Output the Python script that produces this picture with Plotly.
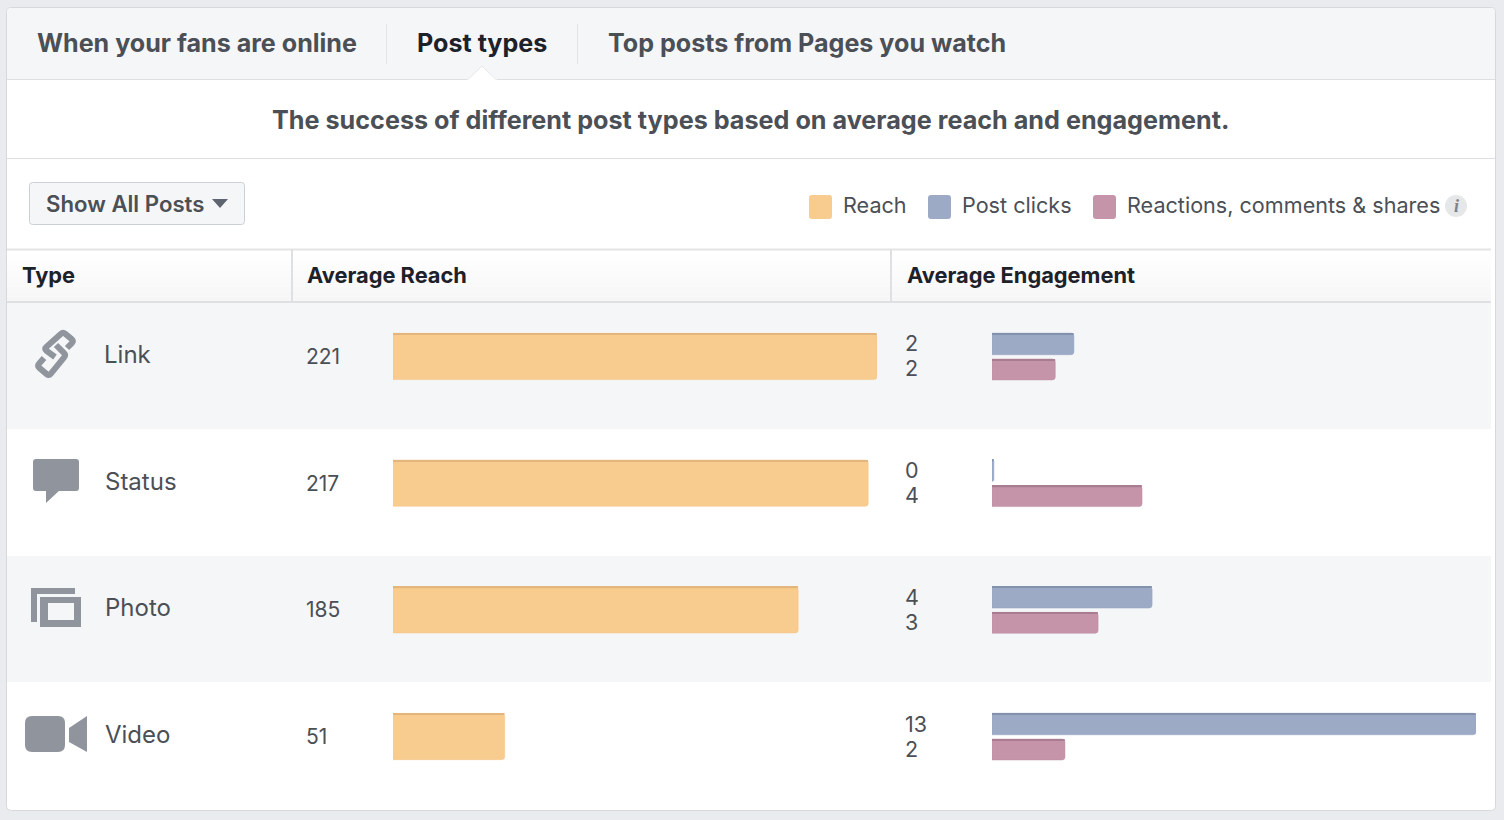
import plotly.graph_objects as go

post_types = ["Link", "Status", "Photo", "Video"]
avg_reach = [221, 217, 185, 51]
post_clicks = [2.2, 0.05, 4.3, 13]
reactions = [1.7, 4.03, 2.85, 1.96]
post_clicks_labels = ["2", "0", "4", "13"]
reactions_labels = ["2", "4", "3", "2"]
tabs = ["When your fans are online", "Post types", "Top posts from Pages you watch"]
columns = ["Type", "Average Reach", "Average Engagement"]
legend_names = ["Reach", "Post clicks", "Reactions, comments & shares"]

W = 1504
H = 820
FONT = "Inter"
DARK = "#4b4f56"
BLACK = "#1d2129"
ICON = "#90959d"
LINE = "#dddfe2"
REACH_COL = "#f8cb8f"
CLICK_COL = "#9daac5"
REACT_COL = "#c594a9"


def px(x):
    return x / W


def py(y):
    return 1 - y / H


def path(points, close=True):
    s = "M " + " L ".join(f"{px(x):.5f},{py(y):.5f}" for x, y in points)
    return s + (" Z" if close else "")


def soft_path(points, r=3):
    # open polyline with its inner corners rounded off
    s = f"M {px(points[0][0]):.5f},{py(points[0][1]):.5f}"
    for i in range(1, len(points) - 1):
        bx, by = points[i]
        for k, (ox, oy) in enumerate((points[i - 1], points[i + 1])):
            d = ((ox - bx) ** 2 + (oy - by) ** 2) ** 0.5
            cx, cy = bx + (ox - bx) * r / d, by + (oy - by) * r / d
            if k == 0:
                s += f" L {px(cx):.5f},{py(cy):.5f}"
            else:
                s += f" Q {px(bx):.5f},{py(by):.5f} {px(cx):.5f},{py(cy):.5f}"
    s += f" L {px(points[-1][0]):.5f},{py(points[-1][1]):.5f}"
    return s


def rounded(x0, y0, x1, y1, r):
    # rounded rectangle, paper coordinates
    X0, X1 = px(x0), px(x1)
    Y0, Y1 = py(y0), py(y1)
    rx, ry = r / W, r / H
    return (
        f"M {X0 + rx:.5f},{Y0:.5f} L {X1 - rx:.5f},{Y0:.5f} Q {X1:.5f},{Y0:.5f} {X1:.5f},{Y0 - ry:.5f} "
        f"L {X1:.5f},{Y1 + ry:.5f} Q {X1:.5f},{Y1:.5f} {X1 - rx:.5f},{Y1:.5f} "
        f"L {X0 + rx:.5f},{Y1:.5f} Q {X0:.5f},{Y1:.5f} {X0:.5f},{Y1 + ry:.5f} "
        f"L {X0:.5f},{Y0 - ry:.5f} Q {X0:.5f},{Y0:.5f} {X0 + rx:.5f},{Y0:.5f} Z"
    )


shapes = []


def add_path(p, fill="rgba(0,0,0,0)", line=None, width=0):
    shapes.append(dict(type="path", xref="paper", yref="paper", path=p, fillcolor=fill,
                       line=dict(color=line or "rgba(0,0,0,0)", width=width), layer="below"))


def add_rect(x0, y0, x1, y1, fill):
    shapes.append(dict(type="rect", xref="paper", yref="paper", x0=px(x0), x1=px(x1), y0=py(y0), y1=py(y1),
                       fillcolor=fill, line=dict(width=0), layer="below"))


def add_line(x0, y0, x1, y1, color, width=1):
    shapes.append(dict(type="line", xref="paper", yref="paper", x0=px(x0), x1=px(x1), y0=py(y0), y1=py(y1),
                       line=dict(color=color, width=width), layer="below"))


annotations = []


def add_text(x, y, text, size, color=DARK, weight=400, anchor="left", family=FONT, yref="paper", yshift=0):
    annotations.append(dict(
        xref="paper", yref=yref, x=px(x), y=py(y) if yref == "paper" else y, yshift=yshift,
        text=text, showarrow=False, xanchor=anchor, yanchor="middle",
        font=dict(family=family, size=size, color=color, weight=weight), borderpad=0,
    ))


# card and tab strip
add_path(rounded(6.5, 7.5, 1495.5, 810.5, 5), fill="#ffffff", line="#d6d8dc", width=1)
add_path(rounded(7, 8, 1495, 40, 4), fill="#f5f6f8")
add_rect(7, 30, 1495, 79, "#f5f6f8")
add_line(7, 79.5, 1495, 79.5, LINE)
add_line(386.5, 24, 386.5, 64, "#e3e4e7")
add_line(577.5, 24, 577.5, 64, "#e3e4e7")
add_path(path([(467, 80), (482, 66), (497, 80)]), fill="#ffffff", line=None)
add_path(path([(468, 79.5), (482, 66), (496, 79.5)], close=False), line="#e6e7ea", width=1)
add_line(7, 158.5, 1495, 158.5, LINE)

# dropdown button
add_path(rounded(29.5, 182.5, 244.5, 224.5, 3), fill="#f5f6f8", line="#ccd0d5", width=1)
add_path(path([(212, 199), (228, 199), (220, 208)]), fill="#5f6570")

# table head, faded in bands
for i in range(10):
    g = 255 - i
    add_rect(7, 250 + i * 5.2, 1491, 250 + (i + 1) * 5.2, f"rgb({g},{g},{min(g + 1, 255)})")
add_line(7, 249.5, 1491, 249.5, "#e3e4e6", 2)
add_line(7, 302, 1491, 302, "#dfe0e3", 2)
add_line(292, 249, 292, 302, "#dfe0e3", 2)
add_line(891, 249, 891, 302, "#dfe0e3", 2)

# striped rows
add_rect(7, 303, 1491, 429, "#f5f6f8")
add_rect(7, 556, 1491, 682, "#f5f6f8")

# link icon
for chain in ([(55, 357), (44, 349), (63, 332), (74, 341), (67, 348)],
              [(56, 345), (66, 355), (49, 376), (37, 366), (44, 358)]):
    add_path(soft_path(chain), line=ICON, width=6)

# status icon
add_path(rounded(33, 459, 79, 491, 3), fill=ICON)
add_path(path([(46, 490), (60, 490), (46, 503)]), fill=ICON)

# photo icon
add_path(path([(31, 588), (75, 588), (75, 594), (37, 594), (37, 622), (31, 622)]), fill=ICON)
add_rect(40, 597, 81, 603, ICON)
add_rect(40, 620, 81, 627, ICON)
add_rect(40, 603, 48, 620, ICON)
add_rect(74, 603, 81, 620, ICON)

# video icon
add_path(rounded(25, 716, 65, 752, 7), fill=ICON)
add_path(path([(69, 728), (87, 716), (87, 752), (69, 742)]), fill=ICON)

# legend
for x, col in zip([809, 928, 1093], [REACH_COL, CLICK_COL, REACT_COL]):
    add_path(rounded(x, 195, x + 23, 219, 3), fill=col)
for x, name in zip([842, 961, 1125.5], legend_names):
    add_text(x, 204.5, name, 21.6)
shapes.append(dict(type="circle", xref="paper", yref="paper", x0=px(1445), x1=px(1467), y0=py(217), y1=py(195),
                   fillcolor="#e6e7e9", line=dict(width=0), layer="below"))
add_text(1456, 206, "<i>i</i>", 18, color="#808388", anchor="center", family="Liberation Serif", weight=700)

# fixed text
for x, tab in zip([35.5, 415.5, 606.5], tabs):
    add_text(x, 42.5, tab, 25.1, color=BLACK if tab == "Post types" else DARK, weight=700)
add_text(750.5, 119.5, "The success of different post types based on average reach and engagement.", 25.2, weight=700, anchor="center")
add_text(44.5, 203.5, "Show All Posts", 22.2, weight=600)
for x, col in zip([21, 306, 906], columns):
    add_text(x, 275, col, 21.8, color=BLACK, weight=700)

# row text sits on the shared y axis
for i, name in enumerate(post_types):
    add_text(103.5, i, name, 24, yref="y", yshift=2)
    add_text(305, i, str(avg_reach[i]), 21, yref="y", yshift=0)
    add_text(904, i, post_clicks_labels[i], 21.5, yref="y", yshift=13)
    add_text(904, i, reactions_labels[i], 21.5, yref="y", yshift=-12)

rows = list(range(len(post_types)))
EDGE = 0.012  # thin darker strip along the top of each bar

fig = go.Figure()
fig.add_trace(go.Bar(y=rows, x=avg_reach, orientation="h", xaxis="x", yaxis="y", name="Reach",
                     width=0.365, marker=dict(color=REACH_COL, line=dict(color="#f3c488", width=0.5))))
fig.add_trace(go.Bar(y=rows, x=post_clicks, orientation="h", xaxis="x2", yaxis="y", name="Post clicks",
                     width=0.17, offset=-0.184, marker=dict(color=CLICK_COL, line=dict(color="#95a3c0", width=0.5))))
fig.add_trace(go.Bar(y=rows, x=reactions, orientation="h", xaxis="x2", yaxis="y", name="Reactions, comments & shares",
                     width=0.165, offset=0.02, marker=dict(color=REACT_COL, line=dict(color="#bd8ea3", width=0.5))))
fig.add_trace(go.Bar(y=rows, x=avg_reach, orientation="h", xaxis="x", yaxis="y",
                     width=EDGE, offset=-0.1825, marker=dict(color="#e2b67c", line=dict(width=0))))
fig.add_trace(go.Bar(y=rows, x=post_clicks, orientation="h", xaxis="x2", yaxis="y",
                     width=EDGE, offset=-0.184, marker=dict(color="#8391ad", line=dict(width=0))))
fig.add_trace(go.Bar(y=rows, x=reactions, orientation="h", xaxis="x2", yaxis="y",
                     width=EDGE, offset=0.02, marker=dict(color="#a87c91", line=dict(width=0))))

fig.update_layout(
    width=W, height=H,
    margin=dict(l=0, r=0, t=0, b=0),
    paper_bgcolor="#e9ebee",
    plot_bgcolor="rgba(0,0,0,0)",
    showlegend=False,
    barmode="overlay",
    barcornerradius=3,
    hovermode=False,
    shapes=shapes,
    annotations=annotations,
    xaxis=dict(domain=[px(393), px(877)], range=[0, 221], visible=False, anchor="y"),
    xaxis2=dict(domain=[px(992), px(1476)], range=[0, 13], visible=False, anchor="y"),
    yaxis=dict(domain=[py(810), py(303)], range=[3.58, -0.422], visible=False, anchor="x"),
)

fig.write_html("out.html", config=dict(displayModeBar=False),
               post_script="document.body.style.margin='0';document.body.style.background='#e9ebee';")
